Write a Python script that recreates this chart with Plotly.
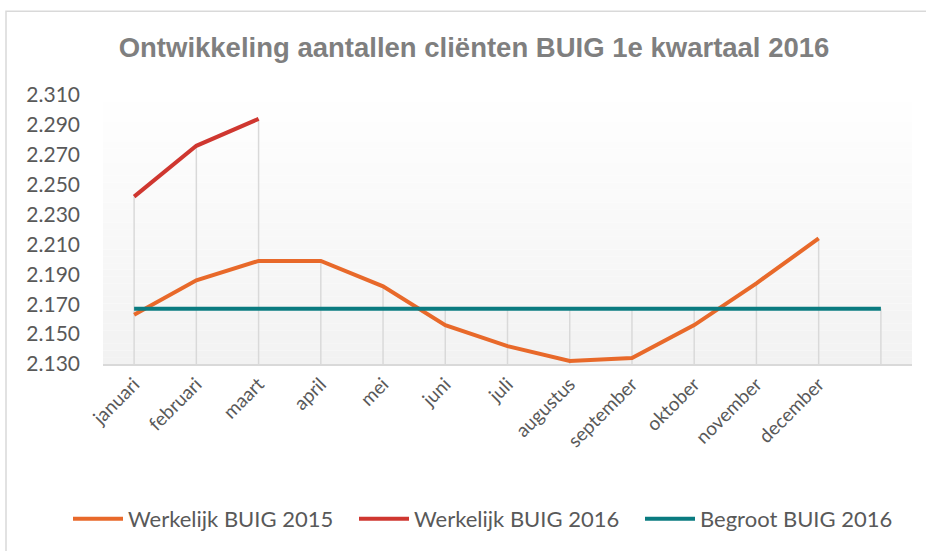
import plotly.graph_objects as go

months = ["januari", "februari", "maart", "april", "mei", "juni", "juli",
          "augustus", "september", "oktober", "november", "december"]
werkelijk_2015 = [2163, 2186, 2199, 2199, 2182, 2156, 2142, 2132, 2134, 2156, 2184, 2214]
werkelijk_2016 = [2242, 2276, 2294]
begroot_2016 = [2167] * 13
y_ticks = [2130, 2150, 2170, 2190, 2210, 2230, 2250, 2270, 2290, 2310]
y_ticktext = ["2.130", "2.150", "2.170", "2.190", "2.210", "2.230", "2.250", "2.270", "2.290", "2.310"]

title = "Ontwikkeling aantallen cliënten BUIG 1e kwartaal 2016"
c2015 = "#E8692A"
c2016 = "#CF3730"
cbeg = "#0A7B80"
txt = "#595959"
font = "Lato"

n = len(begroot_2016)
xs = list(range(n))

# drop lines: from axis bottom to highest value per category
tops = []
for i in range(n):
    vals = [begroot_2016[i]]
    if i < len(werkelijk_2015):
        vals.append(werkelijk_2015[i])
    if i < len(werkelijk_2016):
        vals.append(werkelijk_2016[i])
    tops.append(max(vals))
dx, dy = [], []
for i in range(n):
    dx += [i, i, None]
    dy += [y_ticks[0], tops[i], None]

fig = go.Figure()
fig.add_trace(go.Scatter(x=dx, y=dy, mode="lines", line=dict(color="#d9d9d9", width=1.5),
                         showlegend=False, hoverinfo="skip"))
fig.add_trace(go.Scatter(x=xs[:12], y=werkelijk_2015, mode="lines", name="Werkelijk BUIG 2015",
                         line=dict(color=c2015, width=4)))
fig.add_trace(go.Scatter(x=xs[:3], y=werkelijk_2016, mode="lines", name="Werkelijk BUIG 2016",
                         line=dict(color=c2016, width=4)))
fig.add_trace(go.Scatter(x=xs, y=begroot_2016, mode="lines", name="Begroot BUIG 2016",
                         line=dict(color=cbeg, width=4)))

# gradient background of plot area
shapes = []
nb = 40
for k in range(nb):
    t = k / nb
    g = int(round(242 + (255 - 242) * t))
    shapes.append(dict(type="rect", xref="x domain", yref="y domain", x0=0, x1=1,
                       y0=t, y1=(k + 1) / nb, fillcolor=f"rgb({g},{g},{g})",
                       line=dict(width=0), layer="below"))
# chart frame
shapes.append(dict(type="rect", xref="paper", yref="paper",
                   x0=-97 / 809, x1=1.2, y0=-1.0, y1=(551 - 11 - 186) / 270,
                   line=dict(color="#d9d9d9", width=1.5), fillcolor="rgba(0,0,0,0)", layer="below"))

fig.update_layout(
    width=926, height=551,
    margin=dict(l=103, r=14, t=95, b=186),
    paper_bgcolor="white", plot_bgcolor="white",
    shapes=shapes,
    title=dict(text=f"<b>{title}</b>", x=474 / 926, xref="container", xanchor="center",
               y=1 - 47 / 551, yref="container", yanchor="middle",
               font=dict(family="Liberation Sans, Arial", size=27.5, color="#7f7f7f")),
    xaxis=dict(range=[-0.5, 12.5], tickvals=xs[:12], ticktext=months, tickangle=-45,
               showgrid=False, zeroline=False, showline=True, linecolor="#d9d9d9", linewidth=1.5,
               ticks="", tickfont=dict(family=font, size=19, color=txt)),
    yaxis=dict(range=[y_ticks[0], y_ticks[-1]], tickvals=y_ticks, ticktext=y_ticktext,
               showgrid=False, zeroline=False, showline=False, ticks="",
               ticklabelstandoff=22, tickfont=dict(family=font, size=21, color=txt)),
    legend=dict(orientation="h", x=-0.0001, xanchor="left", y=-0.57, yanchor="middle",
                font=dict(family=font, size=22, color=txt), bgcolor="rgba(0,0,0,0)",
                itemwidth=50, entrywidth=221, tracegroupgap=0),
    showlegend=True,
)

fig.write_html("out.html", config={"displayModeBar": False},
               post_script="document.body.style.margin='0';")
